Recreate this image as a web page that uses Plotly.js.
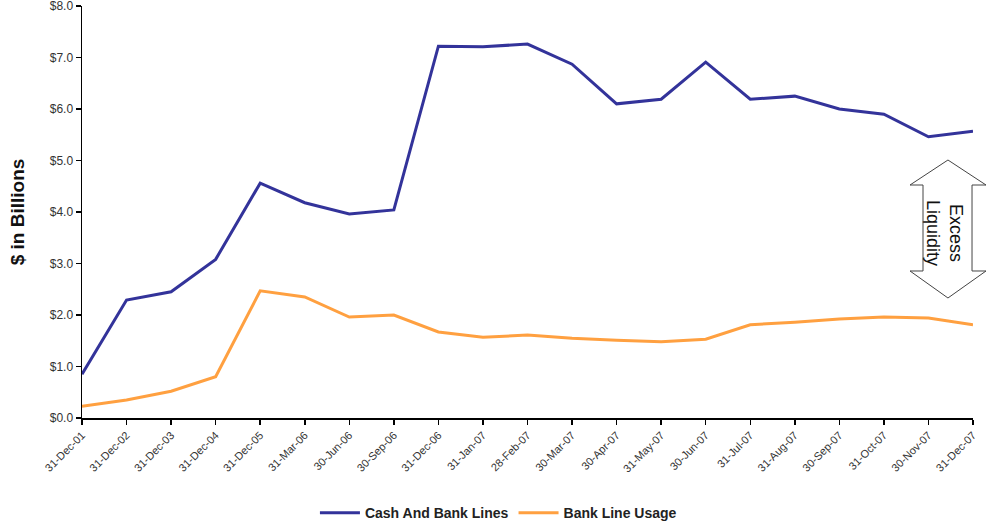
<!DOCTYPE html>
<html>
<head>
<meta charset="utf-8">
<script src="https://cdn.plot.ly/plotly-3.0.1.min.js"></script>
<style>html,body{margin:0;padding:0;background:#fff;}#chart{width:987px;height:522px;}</style>
</head>
<body>
<div id="chart"></div>
<script>
var dates = ["31-Dec-01","31-Dec-02","31-Dec-03","31-Dec-04","31-Dec-05","31-Mar-06","30-Jun-06","30-Sep-06","31-Dec-06","31-Jan-07","28-Feb-07","30-Mar-07","30-Apr-07","31-May-07","30-Jun-07","31-Jul-07","31-Aug-07","30-Sep-07","31-Oct-07","30-Nov-07","31-Dec-07"];
var cashAndBankLines = [0.85,2.29,2.45,3.08,4.56,4.18,3.96,4.04,7.22,7.21,7.26,6.87,6.10,6.19,6.91,6.19,6.25,6.00,5.90,5.46,5.57];
var bankLineUsage = [0.23,0.35,0.52,0.80,2.47,2.35,1.96,2.00,1.67,1.57,1.61,1.55,1.51,1.48,1.53,1.81,1.86,1.92,1.96,1.94,1.81];
var yTicks = [0,1,2,3,4,5,6,7,8];
var yTickLabels = ["$0.0","$1.0","$2.0","$3.0","$4.0","$5.0","$6.0","$7.0","$8.0"];

var traces = [
  {x: dates, y: cashAndBankLines, type: "scatter", mode: "lines", name: "Cash And Bank Lines",
   line: {color: "#33339a", width: 3}},
  {x: dates, y: bankLineUsage, type: "scatter", mode: "lines", name: "Bank Line Usage",
   line: {color: "#ffa040", width: 3}}
];

var layout = {
  width: 987, height: 522,
  margin: {l: 82, r: 14, t: 6, b: 104},
  paper_bgcolor: "#fff", plot_bgcolor: "#fff",
  font: {family: "Liberation Sans, Arial, sans-serif", color: "#333"},
  showlegend: true,
  legend: {orientation: "h", xref: "container", yref: "container", x: 0.505, xanchor: "center", y: 0.017, yanchor: "middle",
           font: {size: 14, color: "#222", family: "Liberation Sans, Arial, sans-serif", weight: "bold"},
           itemwidth: 40, tracegroupgap: 0},
  xaxis: {type: "category", range: [0, 20], showgrid: false, zeroline: false,
          showline: true, linecolor: "#000", linewidth: 1.5,
          ticks: "outside", ticklen: 5, tickcolor: "#000", tickwidth: 1.5,
          tickangle: -45, tickfont: {size: 11, color: "#333"}, automargin: false, ticklabeloverflow: "allow"},
  yaxis: {range: [0, 8], tickvals: yTicks, ticktext: yTickLabels, showgrid: false, zeroline: false,
          showline: true, linecolor: "#000", linewidth: 1.5,
          ticks: "outside", ticklen: 5, tickcolor: "#000", tickwidth: 1.5,
          tickfont: {size: 12, color: "#333"}, automargin: false, ticklabeloverflow: "allow",
          title: {text: "$ in Billions", standoff: 20,
                  font: {size: 19, color: "#111", family: "Liberation Sans, Arial, sans-serif", weight: "bold"}}},
  shapes: [{
    type: "path", xref: "paper", yref: "paper",
    path: "M 0.9719 0.6262 L 1.0146 0.5655 L 0.9989 0.5655 L 0.9989 0.3568 L 1.0146 0.3568 L 0.9719 0.2913 L 0.9293 0.3568 L 0.9439 0.3568 L 0.9439 0.5655 L 0.9293 0.5655 Z",
    line: {color: "#444", width: 1}, fillcolor: "#fff"
  }],
  annotations: [{
    xref: "paper", yref: "paper", x: 0.9686, y: 0.449, xanchor: "center", yanchor: "middle",
    text: "Excess<br>Liquidity", textangle: 90, showarrow: false,
    font: {size: 18, color: "#111", family: "Liberation Sans, Arial, sans-serif"}
  }]
};

Plotly.newPlot("chart", traces, layout, {displayModeBar: false, staticPlot: true});
</script>
</body>
</html>
